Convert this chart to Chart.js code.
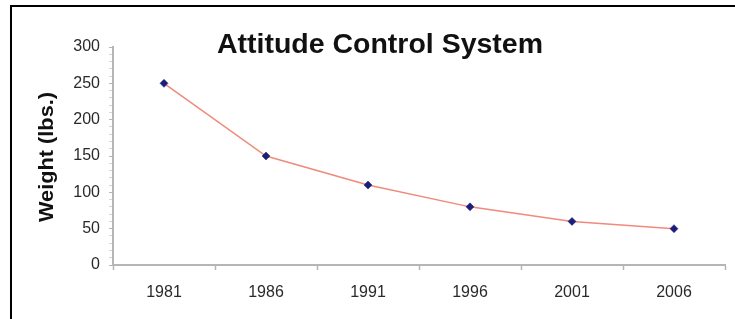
<!DOCTYPE html>
<html>
<head>
<meta charset="utf-8">
<script src="https://cdn.jsdelivr.net/npm/chart.js@4.4.1/dist/chart.umd.min.js"></script>
<style>
    html, body { margin: 0; padding: 0; background: #fff; }
    #wrap { position: relative; width: 735px; height: 319px; overflow: hidden; }
    #wrap canvas { position: absolute; left: 0; top: 0; }
    #frame { position: absolute; left: 10px; top: 5px; right: -5px; bottom: -5px;
             border-left: 2px solid #000; border-top: 2px solid #000; }
</style>
</head>
<body>
<div id="wrap">
    <canvas id="myChart" width="735" height="319"></canvas>
    <div id="frame"></div>
</div>
<script>
const years = ['1981', '1986', '1991', '1996', '2001', '2006'];
const weights = [250, 150, 110, 80, 60, 50];
const yMajorTicks = [0, 50, 100, 150, 200, 250, 300];

const chartTitle = 'Attitude Control System';
const yAxisTitle = 'Weight (lbs.)';

// fits a text to a given width
function drawWide(ctx, text, x, y, width) {
    const w = ctx.measureText(text).width;
    ctx.save();
    ctx.translate(x, y);
    ctx.scale(width / w, 1);
    ctx.fillText(text, 0, 0);
    ctx.restore();
}

const titlesPlugin = {
    id: 'titles',
    afterDraw(chart) {
        const ctx = chart.ctx;
        ctx.save();
        ctx.fillStyle = '#111';
        ctx.textAlign = 'center';
        ctx.textBaseline = 'alphabetic';
        ctx.font = 'bold 28px "Liberation Sans", Arial, sans-serif';
        drawWide(ctx, chartTitle, 380, 53, 326);

        ctx.font = 'bold 21px "Liberation Sans", Arial, sans-serif';
        ctx.translate(53, 157);
        ctx.rotate(-Math.PI / 2);
        drawWide(ctx, yAxisTitle, 0, 0, 130);
        ctx.restore();
    }
};

const data = {
    labels: years,
    datasets: [{
        label: 'Weight',
        data: weights,
        borderColor: '#f08a7c',
        borderWidth: 1.5,
        tension: 0,
        pointStyle: 'rectRot',
        pointRadius: 4,
        pointHoverRadius: 4,
        pointBackgroundColor: '#1d1d7a',
        pointBorderColor: '#1d1d7a',
        pointBorderWidth: 0.5
    }]
};

const config = {
    type: 'line',
    data: data,
    plugins: [titlesPlugin],
    options: {
        responsive: false,
        animation: false,
        layout: { padding: { top: 47, right: 10, left: 0, bottom: 0 } },
        plugins: {
            legend: { display: false },
            title: { display: false },
            tooltip: { enabled: false }
        },
        scales: {
            x: {
                offset: true,
                afterFit: (scale) => { scale.height = 54; },
                grid: {
                    offset: true,
                    drawOnChartArea: false,
                    tickLength: 5,
                    tickColor: '#b5b5b5',
                    tickWidth: 1.5
                },
                border: { display: true, color: '#b5b5b5', width: 2 },
                ticks: {
                    padding: 13,
                    color: '#2a2a2a',
                    font: { family: '"Liberation Sans", Arial, sans-serif', size: 16 }
                }
            },
            y: {
                min: 0,
                max: 300,
                afterFit: (scale) => { scale.width = 113; },
                grid: {
                    drawOnChartArea: false,
                    tickLength: 4,
                    tickColor: (c) => yMajorTicks.includes(c.tick.value) ? '#b5b5b5' : '#d5d5d5',
                    tickWidth: 1
                },
                border: { display: true, color: '#b5b5b5', width: 2 },
                ticks: {
                    stepSize: 10,
                    autoSkip: false,
                    padding: 9,
                    color: '#2a2a2a',
                    font: { family: '"Liberation Sans", Arial, sans-serif', size: 16 },
                    callback: (v) => yMajorTicks.includes(v) ? String(v) : ''
                }
            }
        }
    }
};

const myChart = new Chart(document.getElementById('myChart'), config);
</script>
</body>
</html>
